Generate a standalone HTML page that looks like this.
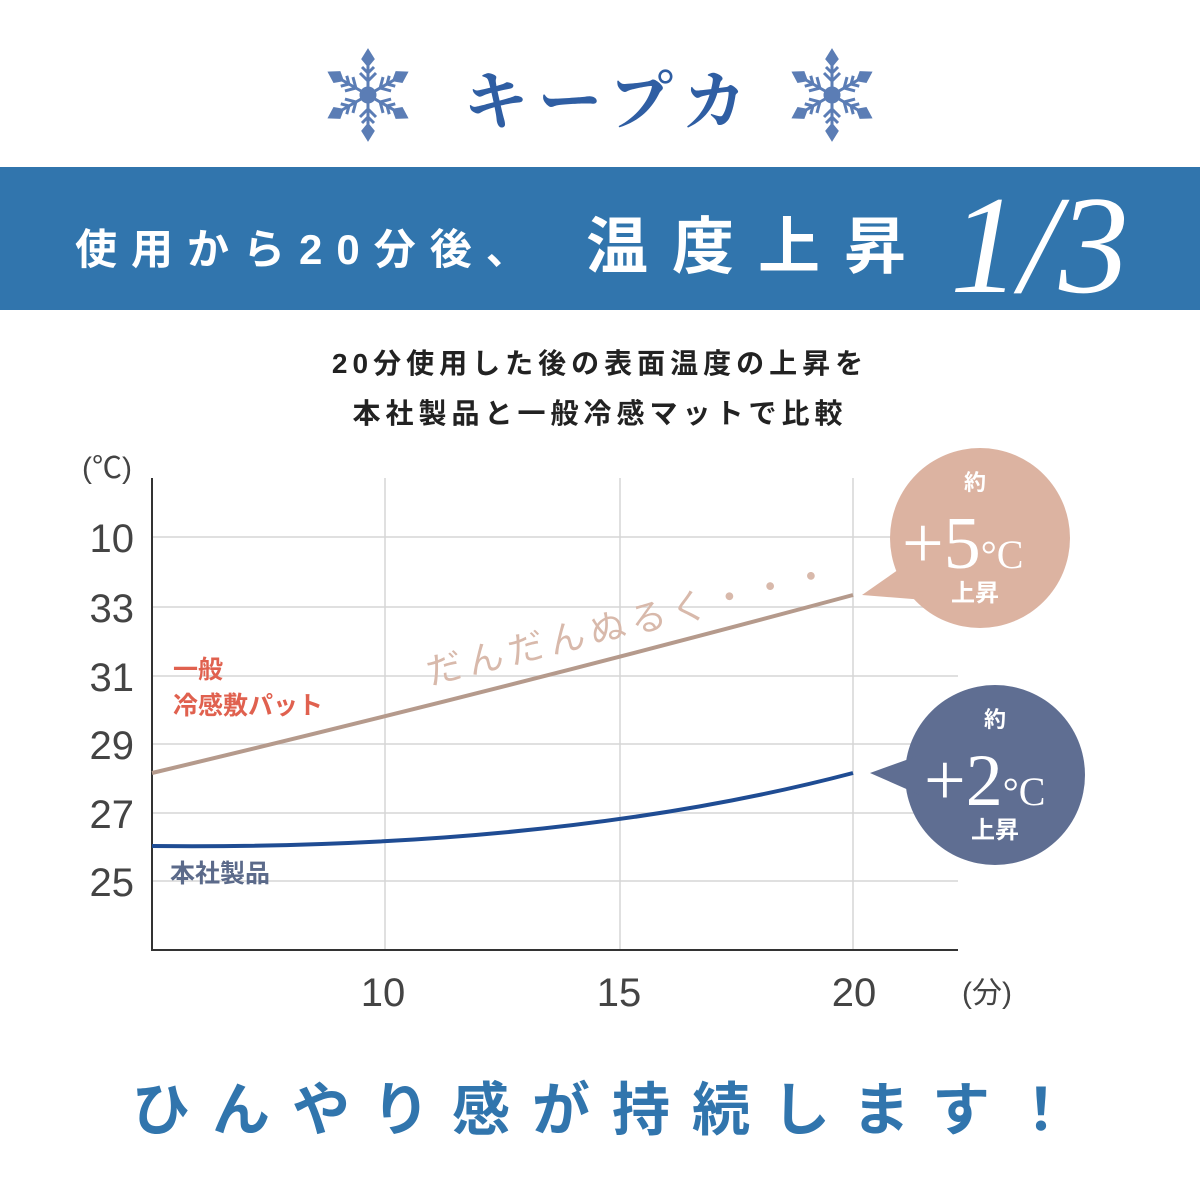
<!DOCTYPE html>
<html><head><meta charset="utf-8"><style>
html,body{margin:0;padding:0;background:#fff;}
svg{display:block;}
</style></head><body>
<svg width="1200" height="1200" viewBox="0 0 1200 1200" xmlns="http://www.w3.org/2000/svg">
<defs>
<g id="flake" stroke="#5b7db5" stroke-width="3" fill="#5b7db5">
  <g id="arm"><line x1="0" y1="0" x2="0" y2="-36"/><polygon points="0,-44 5,-36 0,-30 -5,-36"/><line x1="0" y1="-14" x2="-8" y2="-22"/><line x1="0" y1="-14" x2="8" y2="-22"/><line x1="0" y1="-22" x2="-6" y2="-28"/><line x1="0" y1="-22" x2="6" y2="-28"/></g>
  <use href="#arm" transform="rotate(60)"/><use href="#arm" transform="rotate(120)"/><use href="#arm" transform="rotate(180)"/><use href="#arm" transform="rotate(240)"/><use href="#arm" transform="rotate(300)"/>
  <circle r="7"/>
</g>
</defs>
<use href="#flake" transform="translate(368,95)"/>
<use href="#flake" transform="translate(832,95)"/>
<text x="610" y="124" text-anchor="middle" font-family="'Noto Serif CJK SC','Noto Sans CJK JP',serif" font-weight="bold" font-size="64" fill="#2f5ea3" letter-spacing="10">キープカ</text>
<rect x="0" y="167" width="1200" height="143" fill="#3175ad"/>
<text x="75" y="264" font-family="'Liberation Sans','Noto Sans CJK JP',sans-serif" font-weight="bold" font-size="42" fill="#fff" letter-spacing="14">使用から20分後、</text>
<text x="586" y="268" font-family="'Liberation Sans','Noto Sans CJK JP',sans-serif" font-weight="bold" font-size="62" fill="#fff" letter-spacing="24">温度上昇</text>
<text x="950" y="292" font-family="'Liberation Serif',serif" font-style="italic" font-size="140" fill="#fff">1/3</text>
<text x="600" y="373" text-anchor="middle" font-family="'Liberation Sans','Noto Sans CJK JP',sans-serif" font-weight="bold" font-size="28" fill="#222" letter-spacing="5">20分使用した後の表面温度の上昇を</text>
<text x="600" y="423" text-anchor="middle" font-family="'Liberation Sans','Noto Sans CJK JP',sans-serif" font-weight="bold" font-size="28" fill="#222" letter-spacing="5">本社製品と一般冷感マットで比較</text>
<g stroke="#d6d6d6" stroke-width="1.5">
<line x1="152" y1="537" x2="958" y2="537"/><line x1="152" y1="607" x2="958" y2="607"/><line x1="152" y1="676" x2="958" y2="676"/><line x1="152" y1="744" x2="958" y2="744"/><line x1="152" y1="813" x2="958" y2="813"/><line x1="152" y1="881" x2="958" y2="881"/>
<line x1="385" y1="478" x2="385" y2="950"/><line x1="620" y1="478" x2="620" y2="950"/><line x1="853" y1="478" x2="853" y2="950"/>
</g>
<polyline points="152,478 152,950 958,950" fill="none" stroke="#333" stroke-width="2"/>
<g font-family="'Liberation Sans','Noto Sans CJK JP',sans-serif" fill="#444" font-size="40" text-anchor="end">
<text x="134" y="552">10</text><text x="134" y="622">33</text><text x="134" y="691">31</text><text x="134" y="759">29</text><text x="134" y="828">27</text><text x="134" y="896">25</text>
</g>
<text x="82" y="478" font-family="'Liberation Sans','Noto Sans CJK JP',sans-serif" font-size="30" fill="#444">(℃)</text>
<g font-family="'Liberation Sans','Noto Sans CJK JP',sans-serif" fill="#444" font-size="40" text-anchor="middle">
<text x="383" y="1006">10</text><text x="619" y="1006">15</text><text x="854" y="1006">20</text>
</g>
<text x="962" y="1003" font-family="'Liberation Sans','Noto Sans CJK JP',sans-serif" font-size="30" fill="#444">(分)</text>
<path d="M152,773 Q500,690 853,595" fill="none" stroke="#b59a8c" stroke-width="4"/>
<path d="M152,846 Q560,850 853,773" fill="none" stroke="#1f4c93" stroke-width="4"/>
<text x="430" y="685" transform="rotate(-14 430 685)" font-family="'Noto Sans CJK JP',sans-serif" font-size="36" fill="#d8b9ab" letter-spacing="6">だんだんぬるく・・・</text>
<text x="173" y="678" font-family="'Noto Sans CJK JP',sans-serif" font-weight="bold" font-size="25" fill="#e0614f">一般</text>
<text x="173" y="714" font-family="'Noto Sans CJK JP',sans-serif" font-weight="bold" font-size="25" fill="#e0614f">冷感敷パット</text>
<text x="170" y="882" font-family="'Noto Sans CJK JP',sans-serif" font-weight="bold" font-size="25" fill="#5b6a8a">本社製品</text>
<g fill="#dcb3a1"><circle cx="980" cy="538" r="90"/><polygon points="862,595 905,565 925,600"/></g>
<g fill="#5f6e92"><circle cx="995" cy="775" r="90"/><polygon points="870,773 920,755 920,795"/></g>
<g fill="#fff" font-family="'Noto Sans CJK JP',sans-serif" font-weight="bold" text-anchor="middle">
<text x="975" y="490" font-size="22">約</text><text x="975" y="601" font-size="24">上昇</text>
<text x="995" y="727" font-size="22">約</text><text x="995" y="838" font-size="24">上昇</text>
</g>
<g fill="#fff" font-family="'Liberation Serif',serif">
<text x="902" y="568" font-size="74">+5<tspan font-size="40">°C</tspan></text>
<text x="924" y="805" font-size="74">+2<tspan font-size="40">°C</tspan></text>
</g>
<text x="612" y="1130" text-anchor="middle" font-family="'Liberation Sans','Noto Sans CJK JP',sans-serif" font-weight="bold" font-size="58" fill="#3175ad" letter-spacing="22">ひんやり感が持続します！</text>
</svg>
</body></html>
